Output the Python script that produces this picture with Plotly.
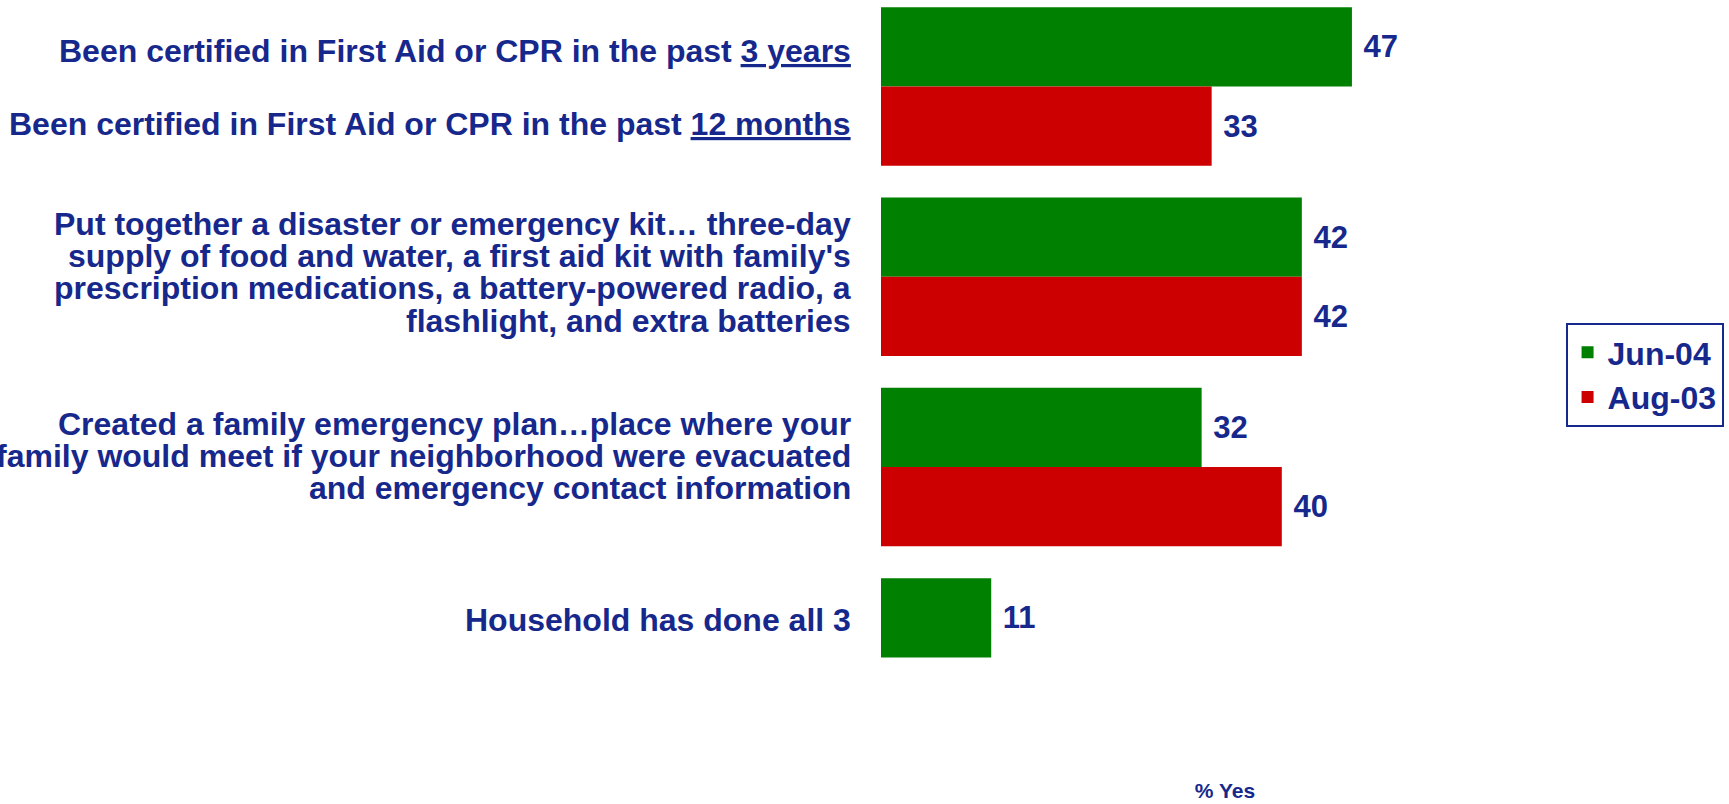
import plotly.graph_objects as go

# ---------------- data ----------------
categories = ["First Aid/CPR", "Emergency kit", "Emergency plan", "All 3"]
series_names = ["Jun-04", "Aug-03"]
jun04 = [47, 42, 32, 11]
aug03 = [33, 42, 40, None]
series_colors = ["#008000", "#CC0000"]

label_cpr_3y = "Been certified in First Aid or CPR in the past <u>3 years</u>"
label_cpr_12m = "Been certified in First Aid or CPR in the past <u>12 months</u>"
label_kit = [
    "Put together a disaster or emergency kit… three-day",
    "supply of food and water, a first aid kit with family's",
    "prescription medications, a battery-powered radio, a",
    "flashlight, and extra batteries",
]
label_plan = [
    "Created a family emergency plan…place where your",
    "family would meet if your neighborhood were evacuated",
    "and emergency contact information",
]
label_all3 = "Household has done all 3"
axis_title = "% Yes"

# ---------------- style ----------------
NAVY = "#17288C"
FONT = "Liberation Sans, Arial, sans-serif"

fig = go.Figure()
for name, vals, col in zip(series_names, [jun04, aug03], series_colors):
    fig.add_trace(go.Bar(
        y=categories, x=vals, name=name, orientation="h",
        marker=dict(color=col, line=dict(width=0)),
        texttemplate="\u00a0%{x}", textposition="outside",
        textfont=dict(family=FONT, size=31, color=NAVY, weight="bold"),
        cliponaxis=False,
    ))

# category labels (one annotation per line, to keep the tight line spacing)
label_blocks = [
    (categories[0], [label_cpr_3y], 35.0),
    (categories[0], [label_cpr_12m], -38.0),
    (categories[1], label_kit, 4.5),
    (categories[2], label_plan, 11.0),
    (categories[3], [label_all3], 37.8),
]
LINE = 32.3
for cat, lines, center_shift in label_blocks:
    n = len(lines)
    for k, line in enumerate(lines):
        ys = center_shift + ((n - 1) / 2 - k) * LINE
        fig.add_annotation(
            xref="paper", x=0, yref="y", y=cat,
            xanchor="right", yanchor="middle", xshift=-28, yshift=ys,
            text=f"<b>{line}</b>", showarrow=False, align="right",
            font=dict(family=FONT, size=32, color=NAVY),
        )

fig.update_layout(
    width=1729, height=804,
    margin=dict(l=881, r=160, t=0, b=52),
    paper_bgcolor="white", plot_bgcolor="white",
    barmode="group", bargap=0.167, bargroupgap=0.0,
    font=dict(family=FONT, color=NAVY),
    showlegend=True,
    legend=dict(
        x=0.995, xanchor="left", y=0.5705, yanchor="top",
        bordercolor=NAVY, borderwidth=2, bgcolor="white",
        font=dict(family=FONT, size=32, color=NAVY, weight="bold"),
        traceorder="normal",
    ),
    xaxis=dict(
        range=[0, 688 / 10.02], showgrid=False, zeroline=False,
        showticklabels=False, ticks="", showline=False,
        title=dict(text=f"<b>{axis_title}</b>", standoff=31,
                   font=dict(family=FONT, size=21, color=NAVY)),
    ),
    yaxis=dict(
        categoryorder="array", categoryarray=categories,
        range=[3.497, -0.4545], showgrid=False, zeroline=False,
        showticklabels=False, ticks="", showline=False,
    ),
)

fig.write_html(
    "out.html",
    config={"displayModeBar": False},
    post_script="document.body.style.margin='0';document.body.style.overflow='hidden';",
)
